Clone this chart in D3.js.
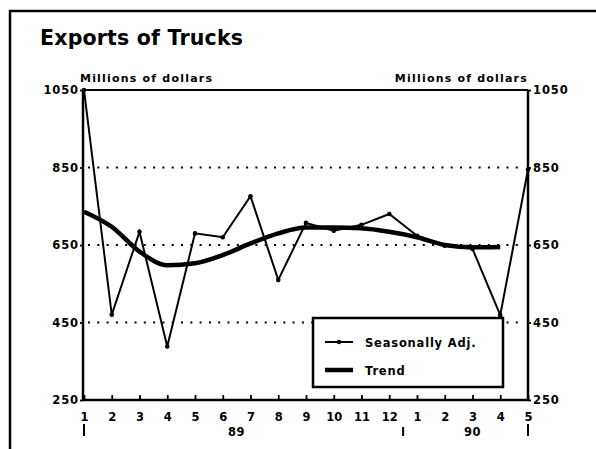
<!DOCTYPE html>
<html>
<head>
<meta charset="utf-8">
<script src="https://cdn.jsdelivr.net/npm/d3@7"></script>
<style>
  body { margin: 0; background: #fff; }
  svg { display: block; font-family: "DejaVu Sans", sans-serif; font-weight: bold; }
</style>
</head>
<body>
<svg id="chart" width="596" height="449"></svg>
<script>
// month labels along the bottom, two years
const months = ["1","2","3","4","5","6","7","8","9","10","11","12","1","2","3","4","5"];
const years = [{label: "89", from: 0, to: 11}, {label: "90", from: 12, to: 16}];
const yTicks = [250, 450, 650, 850, 1050];
const gridVals = [450, 650, 850];

// millions of dollars
const seasonal = [1050, 470, 684, 388, 680, 670, 776, 560, 707, 687, 702, 730, 674, 648, 640, 469, 845];
const trend = [736, 697, 633, 598, 603, 624, 654, 680, 695, 695, 693, 684, 670, 650, 644, 645];

const svg = d3.select("#chart");
const FONT = "DejaVu Sans, sans-serif";

let x = d3.scaleLinear().domain([0, months.length - 1]).range([84, 528]);
let y = d3.scaleLinear().domain([250, 1050]).range([400, 90]);

// outer frame (left + top only, like the scan)
svg.append("path")
  .attr("d", "M10,449 L10,11 L596,11")
  .attr("fill", "none")
  .attr("stroke", "#000")
  .attr("stroke-width", 2.5);

svg.append("text")
  .attr("x", 40).attr("y", 45)
  .attr("font-size", 20.5)
  .attr("letter-spacing", 0.2)
  .text("Exports of Trucks");

svg.append("text")
  .attr("x", 80).attr("y", 82)
  .attr("font-size", 11)
  .attr("letter-spacing", 1.2)
  .text("Millions of dollars");
svg.append("text")
  .attr("x", 528).attr("y", 82)
  .attr("font-size", 11)
  .attr("letter-spacing", 1.2)
  .attr("text-anchor", "end")
  .text("Millions of dollars");

// dotted grid
svg.selectAll("line.grid")
  .data(gridVals).enter()
  .append("line")
    .attr("class", "grid")
    .attr("x1", x(0) + 4).attr("x2", x(16) - 4)
    .attr("y1", d => y(d)).attr("y2", d => y(d))
    .attr("stroke", "#000")
    .attr("stroke-width", 2)
    .attr("stroke-dasharray", "2,7.3");

// top border of plot
svg.append("line")
  .attr("x1", x(0)).attr("x2", x(16))
  .attr("y1", y(1050)).attr("y2", y(1050))
  .attr("stroke", "#000").attr("stroke-width", 1.8);

// left axis
let left = svg.append("g")
  .attr("transform", `translate(${x(0) - 1},0)`)
  .call(d3.axisLeft(y).tickValues(yTicks).tickSize(3).tickPadding(1).tickFormat(d3.format("d")));
// right axis
let right = svg.append("g")
  .attr("transform", `translate(${x(16)},0)`)
  .call(d3.axisRight(y).tickValues(yTicks).tickSize(3).tickPadding(2).tickFormat(d3.format("d")));
// bottom axis, ticks point up into the plot
let bottom = svg.append("g")
  .attr("transform", `translate(0,${y(250)})`)
  .call(d3.axisBottom(x).tickValues(d3.range(months.length)).tickSize(-5).tickPadding(13).tickFormat((d, i) => months[i]));

[left, right, bottom].forEach(g => {
  g.select(".domain").attr("stroke-width", 2.5).attr("stroke", "#000");
  g.selectAll(".tick line").attr("stroke-width", 1.8).attr("stroke", "#000");
  g.selectAll("text")
    .attr("font-family", FONT)
    .attr("font-weight", "bold")
    .attr("font-size", 11.5)
    .attr("letter-spacing", 0.9)
    .attr("fill", "#000");
});
left.select(".domain").attr("d", `M0,${y(1050)}V${y(250)}`);
right.select(".domain").attr("d", `M0,${y(1050)}V${y(250)}`);
bottom.select(".domain").attr("d", `M${x(0) - 1},0H${x(16)}`);
bottom.selectAll("text").attr("letter-spacing", 0);

// year separators and labels
let seps = [x(0), (x(11) + x(12)) / 2, x(16)];
svg.selectAll("line.sep")
  .data(seps).enter()
  .append("line")
    .attr("class", "sep")
    .attr("x1", d => d).attr("x2", d => d)
    .attr("y1", (d, i) => i == 1 ? 427 : 424).attr("y2", 436)
    .attr("stroke", "#000").attr("stroke-width", 2);

svg.selectAll("text.year")
  .data(years).enter()
  .append("text")
    .attr("class", "year")
    .attr("x", d => x((d.from + d.to) / 2))
    .attr("y", 436)
    .attr("font-size", 11.5)
    .attr("letter-spacing", 0.5)
    .attr("text-anchor", "middle")
    .text(d => d.label);

// trend line
let trendLine = d3.line()
  .x((d, i) => x(i))
  .y(d => y(d))
  .curve(d3.curveMonotoneX);

svg.append("path")
  .datum(trend)
  .attr("d", trendLine)
  .attr("fill", "none")
  .attr("stroke", "#000")
  .attr("stroke-width", 4.5)
  .attr("stroke-linejoin", "round");

// seasonally adjusted
let saLine = d3.line()
  .x((d, i) => x(i))
  .y(d => y(d));

svg.append("path")
  .datum(seasonal)
  .attr("d", saLine)
  .attr("fill", "none")
  .attr("stroke", "#000")
  .attr("stroke-width", 2);

svg.selectAll("circle.sa")
  .data(seasonal).enter()
  .append("circle")
    .attr("class", "sa")
    .attr("cx", (d, i) => x(i))
    .attr("cy", d => y(d))
    .attr("r", 2.3)
    .attr("fill", "#000");

// legend
let legend = svg.append("g");
legend.append("rect")
  .attr("x", 313).attr("y", 318)
  .attr("width", 190).attr("height", 69)
  .attr("fill", "#fff")
  .attr("stroke", "#000")
  .attr("stroke-width", 2.5);

let legendItems = [
  {label: "Seasonally Adj.", width: 2, dot: true, ly: 342},
  {label: "Trend", width: 4.5, dot: false, ly: 370}
];

legend.selectAll("line.key")
  .data(legendItems).enter()
  .append("line")
    .attr("class", "key")
    .attr("x1", 325).attr("x2", 353)
    .attr("y1", d => d.ly).attr("y2", d => d.ly)
    .attr("stroke", "#000")
    .attr("stroke-width", d => d.width);

legend.selectAll("circle")
  .data(legendItems.filter(d => d.dot)).enter()
  .append("circle")
    .attr("cx", 339).attr("cy", d => d.ly)
    .attr("r", 2.3).attr("fill", "#000");

legend.selectAll("text")
  .data(legendItems).enter()
  .append("text")
    .attr("x", 365)
    .attr("y", d => d.ly + 4.5)
    .attr("font-size", 11.5)
    .attr("letter-spacing", 0.8)
    .text(d => d.label);
</script>
</body>
</html>
